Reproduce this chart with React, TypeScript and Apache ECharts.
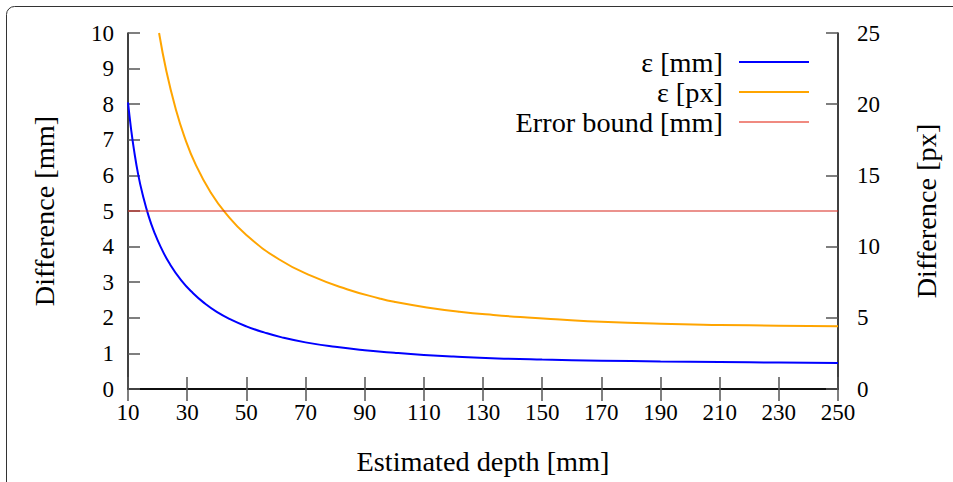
import React, { useEffect, useRef } from "react";
import * as echarts from "echarts";

const depthMm = [10, 11, 12, 13.5, 15, 17, 19, 21, 24, 28, 32, 36, 40, 45, 50, 56, 62, 70, 80, 90, 100, 110, 120, 135, 150, 170, 190, 210, 230, 250];
const epsMm = [8.05, 7.33, 6.73, 6.0, 5.45, 4.85, 4.38, 4.0, 3.53, 3.05, 2.69, 2.4, 2.165, 1.94, 1.76, 1.59, 1.45, 1.31, 1.185, 1.09, 1.017, 0.956, 0.91, 0.858, 0.826, 0.796, 0.773, 0.757, 0.743, 0.731];

const depthPx = [20.5, 23, 26, 29, 33, 38, 43, 50, 61, 72, 84, 95, 100, 111, 122, 133.5, 145, 156, 170, 190, 210, 230, 250];
const epsPx = [25, 22.3, 19.77, 17.76, 15.7, 13.79, 12.35, 10.82, 9.11, 7.94, 7.01, 6.36, 6.12, 5.73, 5.43, 5.2, 5.02, 4.88, 4.72, 4.58, 4.5, 4.45, 4.4];

const boundDepth = [10, 250];
const boundMm = [5, 5];

const seriesNames = ["ε [mm]", "ε [px]", "Error bound [mm]"];
const seriesColors = ["#0000ff", "#ffa500", "#d8261c"];
const legendColors = ["#0000ff", "#ffa500", "#f08a80"];

const FONT = "Liberation Serif, Times New Roman, serif";

export default function App() {
  const ref = useRef<HTMLDivElement>(null);
  useEffect(() => {
    if (!ref.current) return;
    const chart = echarts.init(ref.current, null, { renderer: "svg" });
    const pair = (xs: number[], ys: number[]) => xs.map((x, i) => [x, ys[i]]);
    const tickStyle = { show: true, inside: true, length: 12, lineStyle: { color: "#555", width: 1.5 } };
    const axisLine = { show: true, lineStyle: { color: "#000", width: 1.5 } };
    const legendY = [62, 92, 122];
    const graphics: any[] = [
      {
        type: "rect",
        shape: { x: 6.5, y: 6.5, width: 980, height: 520, r: 8 },
        style: { fill: "none", stroke: "#333", lineWidth: 1 },
        silent: true,
      },
    ];
    seriesNames.forEach((n, i) => {
      graphics.push({
        type: "text",
        x: 723,
        y: legendY[i],
        style: { text: n, font: `28.3px ${FONT}`, fill: "#000", align: "right", verticalAlign: "middle" },
      });
      graphics.push({
        type: "line",
        shape: { x1: 739, y1: legendY[i], x2: 809, y2: legendY[i] },
        style: { stroke: legendColors[i], lineWidth: 2 },
      });
    });
    chart.setOption({
      animation: false,
      backgroundColor: "#fff",
      textStyle: { fontFamily: FONT },
      grid: { left: 128, right: 115, top: 33, bottom: 93, containLabel: false },
      xAxis: [
        {
          type: "value",
          min: 10,
          max: 250,
          interval: 20,
          position: "bottom",
          name: "Estimated depth [mm]",
          nameLocation: "middle",
          nameGap: 58,
          nameTextStyle: { fontSize: 28.3, color: "#000", fontFamily: FONT },
          axisLine,
          axisTick: tickStyle,
          axisLabel: { fontSize: 23, color: "#000", margin: 12, fontFamily: FONT },
          splitLine: { show: false },
        },
        {
          type: "value",
          min: 10,
          max: 250,
          interval: 20,
          position: "top",
          axisLine,
          axisTick: tickStyle,
          axisLabel: { show: false },
          splitLine: { show: false },
        },
      ],
      yAxis: [
        {
          type: "value",
          min: 0,
          max: 10,
          interval: 1,
          position: "left",
          name: "Difference [mm]",
          nameLocation: "middle",
          nameGap: 70,
          nameTextStyle: { fontSize: 28.3, color: "#000", fontFamily: FONT },
          axisLine,
          axisTick: tickStyle,
          axisLabel: { fontSize: 23, color: "#000", margin: 14, fontFamily: FONT },
          splitLine: { show: false },
        },
        {
          type: "value",
          min: 0,
          max: 25,
          interval: 5,
          position: "right",
          name: "Difference [px]",
          nameLocation: "middle",
          nameGap: 74,
          nameTextStyle: { fontSize: 28.3, color: "#000", fontFamily: FONT },
          axisLine,
          axisTick: tickStyle,
          axisLabel: { fontSize: 23, color: "#000", margin: 19, fontFamily: FONT },
          splitLine: { show: false },
        },
      ],
      series: [
        {
          name: seriesNames[0],
          type: "line",
          xAxisIndex: 0,
          yAxisIndex: 0,
          data: pair(depthMm, epsMm),
          smooth: 0.5,
          showSymbol: false,
          clip: true,
          lineStyle: { color: seriesColors[0], width: 2 },
        },
        {
          name: seriesNames[1],
          type: "line",
          xAxisIndex: 0,
          yAxisIndex: 1,
          data: pair(depthPx, epsPx),
          smooth: 0.5,
          showSymbol: false,
          clip: true,
          lineStyle: { color: seriesColors[1], width: 2 },
        },
        {
          name: seriesNames[2],
          type: "line",
          xAxisIndex: 0,
          yAxisIndex: 0,
          data: pair(boundDepth, boundMm),
          showSymbol: false,
          lineStyle: { color: seriesColors[2], width: 1.2 },
        },
      ],
      graphic: graphics,
    });
    return () => chart.dispose();
  }, []);
  return <div ref={ref} style={{ width: 953, height: 482, position: "absolute", left: 0, top: 0 }} />;
}
